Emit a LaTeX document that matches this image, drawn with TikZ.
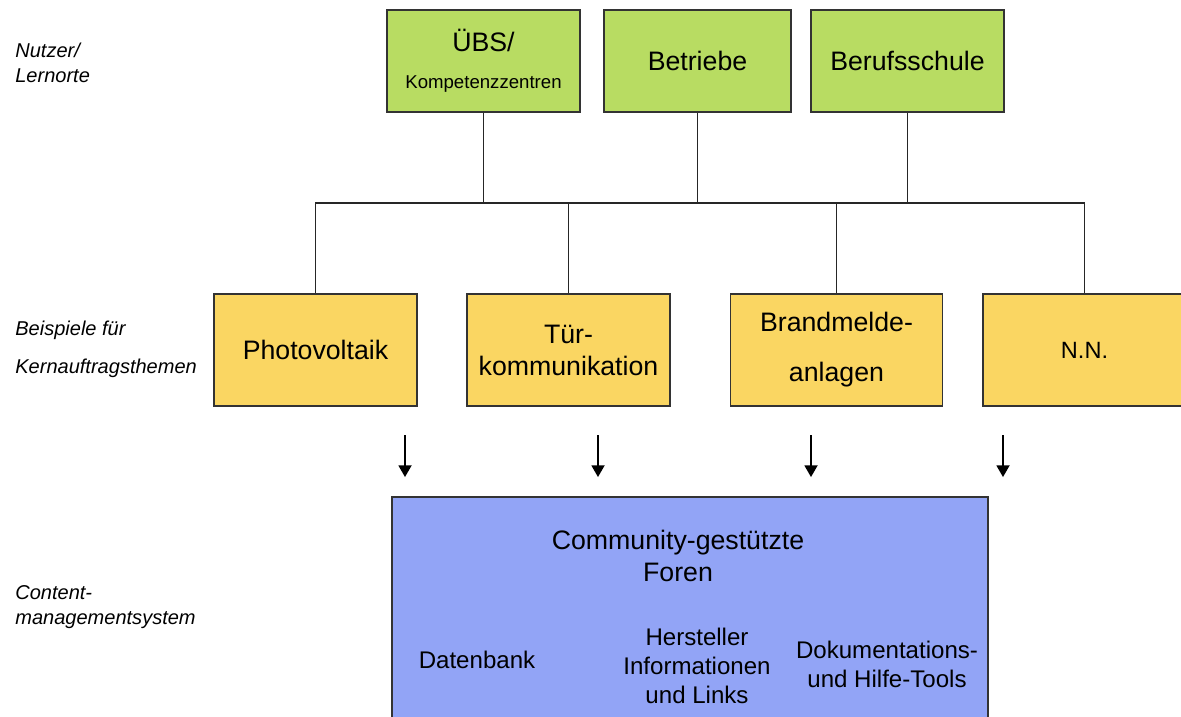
\documentclass[tikz,border=0pt]{standalone}
\usepackage{fontspec}
\setmainfont{Liberation Sans}
\usetikzlibrary{calc}
\usetikzlibrary{arrows}

\definecolor{lerngruen}{RGB}{184,220,98}
\definecolor{themengelb}{RGB}{250,214,98}
\definecolor{cmsblau}{RGB}{146,164,246}

\begin{document}
\begin{tikzpicture}[x=0.02cm, y=-0.02cm,
  box/.style={draw=black!80, line width=0.9pt, inner sep=0pt, align=center},
  lernort/.style={box, fill=lerngruen, minimum height=2.04cm},
  thema/.style={box, fill=themengelb, minimum width=4.06cm, minimum height=2.24cm},
  seite/.style={anchor=west, align=left, inner sep=0pt, font=\itshape\fontsize{11.4}{14.6}\selectfont},
  innen/.style={align=center, font=\fontsize{13.7}{16.5}\selectfont},
  linie/.style={draw=black!85, line width=1pt},
  pfeil/.style={black, line width=0.8pt, ->, >=triangle 60}]
\useasboundingbox (0,0) rectangle (1181,717);

% Beschriftung links
\node[seite] (nutzer) at (15,63) {Nutzer/\\Lernorte};
\node[seite, font=\itshape\fontsize{11.4}{21.6}\selectfont] (beispiele) at (15,349) {Beispiele f\"ur\\Kernauftragsthemen};
\node[seite, font=\itshape\fontsize{11.4}{14.2}\selectfont] (content) at (15,607) {Content-\\managementsystem};

% Lernorte
\node[lernort, minimum width=3.86cm, font=\fontsize{15.2}{21}\selectfont] (ubs) at (483.5,61) {\"UBS/\\{\fontsize{10.6}{12}\selectfont Kompetenzzentren}};
\node[lernort, minimum width=3.74cm, font=\fontsize{15.2}{18}\selectfont] (betr) at (697.5,61) {\raisebox{-6pt}{Betriebe}};
\node[lernort, minimum width=3.86cm, font=\fontsize{15.2}{18}\selectfont] (bs) at (907.5,61) {Berufsschule};

% Kernauftragsthemen
\node[thema, font=\fontsize{15.2}{18}\selectfont] (pv) at (315.5,350) {Photovoltaik};
\node[thema, font=\fontsize{15.2}{18.2}\selectfont] (tuer) at (568.5,350) {T\"ur-\\kommunikation};
\node[thema, minimum width=4.24cm, font=\fontsize{15.2}{28.5}\selectfont] (bma) at (836.5,350) {Brandmelde-\\anlagen};
\node[thema, font=\fontsize{13.4}{16}\selectfont] (nn) at (1084.5,350) {N.N.};

% Verbindungen
\coordinate (bus) at (0,203);
\draw[linie] (ubs.south) -- (ubs.south |- bus);
\draw[linie] (betr.south) -- (betr.south |- bus);
\draw[linie] (bs.south) -- (bs.south |- bus);
\draw[linie] (pv.north) |- (nn.north |- bus) -- (nn.north);
\draw[linie] (tuer.north) -- (tuer.north |- bus);
\draw[linie] (bma.north) -- (bma.north |- bus);

% CMS
\node[box, fill=cmsblau, minimum width=11.92cm, minimum height=4.66cm] (cms) at (690,613.5) {};
\node[align=center, font=\fontsize{15.2}{18.2}\selectfont] (foren) at (678,556) {Community-gest\"utzte\\Foren};
\node[innen] (db) at (477,660) {Datenbank};
\node[innen] (hersteller) at (697,666) {Hersteller\\Informationen\\und Links};
\node[innen] (doku) at (887,664) {Dokumentations-\\und Hilfe-Tools};

\foreach \x [count=\i] in {405,598,811,1003}{
  \coordinate (a\i) at (\x,435);
  \coordinate (b\i) at (\x,477);
  \draw[pfeil] (a\i) -- (b\i);
}

\end{tikzpicture}
\end{document}
